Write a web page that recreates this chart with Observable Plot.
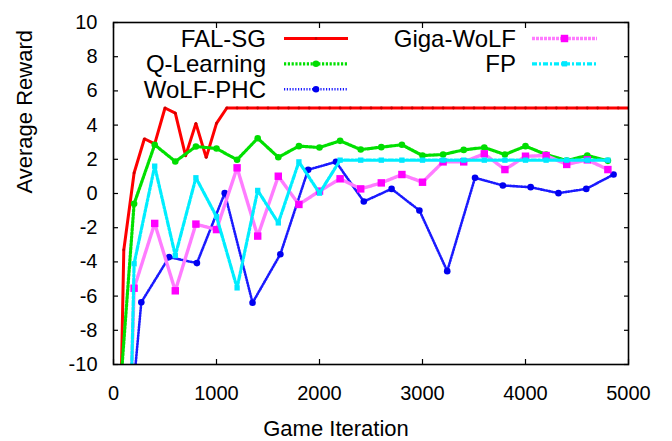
<!DOCTYPE html>
<html><head><meta charset="utf-8">
<script src="https://cdn.jsdelivr.net/npm/d3@7"></script>
<script src="https://cdn.jsdelivr.net/npm/@observablehq/plot@0.6"></script>
<style>
html,body{margin:0;padding:0;background:#fff;}
#wrap{position:relative;width:672px;height:441px;}
#wrap svg{display:block;}
#legend{position:absolute;left:0;top:0;pointer-events:none;}
</style></head><body><div id="wrap"></div>
<script>
// ---- data ----
const seriesNames = ["FAL-SG", "Q-Learning", "WoLF-PHC", "Giga-WoLF", "FP"];

const falIter = [0,100,200,300,400,500,600,700,800,900,1000,1100,1200,1300,1400,1500,1600,1700,1800,1900,2000,2100,2200,2300,2400,2500,2600,2700,2800,2900,3000,3100,3200,3300,3400,3500,3600,3700,3800,3900,4000,4100,4200,4300,4400,4500,4600,4700,4800,4900,5000];
const falVal = [-34,-3.3,1.2,3.2,2.9,5.0,4.7,2.2,4.1,2.1,4.1,5,5,5,5,5,5,5,5,5,5,5,5,5,5,5,5,5,5,5,5,5,5,5,5,5,5,5,5,5,5,5,5,5,5,5,5,5,5,5,5];

const qIter = [0,200,400,600,800,1000,1200,1400,1600,1800,2000,2200,2400,2600,2800,3000,3200,3400,3600,3800,4000,4200,4400,4600,4800];
const qVal = [-16.8,-0.6,2.85,1.87,2.75,2.63,1.97,3.23,2.12,2.77,2.69,3.08,2.57,2.71,2.85,2.22,2.28,2.55,2.69,2.28,2.77,2.28,1.93,2.22,1.91];

const wolfIter = [0,270,540,810,1080,1350,1620,1890,2160,2430,2700,2970,3240,3510,3780,4050,4320,4590,4855];
const wolfVal = [-24,-6.36,-3.72,-4.07,0.02,-6.39,-3.55,1.39,1.85,-0.47,0.27,-0.99,-4.54,0.92,0.47,0.37,0.02,0.27,1.11];

const gigaIter = [0,200,400,600,800,1000,1200,1400,1600,1800,2000,2200,2400,2600,2800,3000,3200,3400,3600,3800,4000,4200,4400,4600,4800];
const gigaVal = [-46,-5.54,-1.75,-5.69,-1.79,-2.11,1.5,-2.49,1.01,-0.64,0.14,0.86,0.27,0.62,1.11,0.66,1.85,1.85,2.32,1.4,2.18,2.22,1.7,1.97,1.4];

const fpIter = [0,200,400,600,800,1000,1200,1400,1600,1800,2000,2200,2400,2600,2800,3000,3200,3400,3600,3800,4000,4200,4400,4600,4800];
const fpVal = [-58,-4.11,1.6,-3.63,0.92,-1.35,-5.52,0.18,-1.72,1.85,0.02,1.95,1.95,1.95,1.95,1.95,1.95,1.95,1.95,1.95,1.95,1.95,1.95,1.95,1.95];

const xTicks = [0,1000,2000,3000,4000,5000];
const yTicks = [-10,-8,-6,-4,-2,0,2,4,6,8,10];
const xLabel = "Game Iteration";
const yLabel = "Average Reward";

// ---- styles ----
const styles = [
  {line:{stroke:"#ff0000", strokeWidth:3}, dot:{fill:"#cc0000", r:1.4, symbol:"circle"}},
  {line:{stroke:"#00e000", strokeWidth:3.2, strokeDasharray:"2.2,1.6"}, dot:{fill:"#00dd00", r:3.3, symbol:"circle"}},
  {line:{stroke:"#1a1aff", strokeWidth:2.6, strokeDasharray:"1.2,1.6"}, dot:{fill:"#0000f0", r:3.3, symbol:"circle"}},
  {line:{stroke:"#ff7cff", strokeWidth:3.4, strokeDasharray:"3,1"}, dot:{fill:"#ff00ff", r:4.2, symbol:"square"}},
  {line:{stroke:"#00eeff", strokeWidth:3.2, strokeDasharray:"5,2,2,2"}, dot:{fill:"#00e8ff", r:3.0, symbol:"square"}}
];
const iters = [falIter, qIter, wolfIter, gigaIter, fpIter];
const vals = [falVal, qVal, wolfVal, gigaVal, fpVal];

const marks = [];
seriesNames.forEach((name, i) => {
  const data = iters[i].map((x, j) => ({x, y: vals[i][j], name}));
  marks.push(Plot.line(data, {x:"x", y:"y", clip:true, strokeLinejoin:"miter", ...styles[i].line}));
  marks.push(Plot.dot(data, {x:"x", y:"y", clip:true, stroke:"none", ...styles[i].dot}));
});

const fmt = d => String(d);
const blank = () => "";
marks.push(
  Plot.axisX({ticks:xTicks, anchor:"bottom", tickSize:-5, tickFormat:blank, label:null, strokeWidth:1.2}),
  Plot.axisX({ticks:xTicks, anchor:"top", tickSize:-5, tickFormat:blank, label:null, strokeWidth:1.2}),
  Plot.axisX({ticks:xTicks, anchor:"bottom", tickSize:0, tickPadding:21, tickFormat:fmt, label:null, fontSize:20}),
  Plot.axisY({ticks:yTicks, anchor:"left", tickSize:-5, tickFormat:blank, label:null, strokeWidth:1.2}),
  Plot.axisY({ticks:yTicks, anchor:"right", tickSize:-5, tickFormat:blank, label:null, strokeWidth:1.2}),
  Plot.axisY({ticks:yTicks, anchor:"left", tickSize:0, tickPadding:16, tickFormat:fmt, label:null, fontSize:20}),
  Plot.frame({stroke:"#000", strokeWidth:1.6}),
  Plot.text([xLabel], {frameAnchor:"bottom", lineAnchor:"middle", dy:64, dx:-35, fontSize:22}),
  Plot.text([yLabel], {frameAnchor:"left", lineAnchor:"middle", rotate:-90, dx:-89, fontSize:22})
);

const chart = Plot.plot({
  width:672, height:441,
  marginLeft:113, marginRight:44, marginTop:22, marginBottom:77,
  x:{domain:[0,5000], axis:null},
  y:{domain:[-10,10], axis:null},
  style:{fontFamily:"'Liberation Sans', Arial, sans-serif", fontSize:"20px", background:"#fff", color:"#000"},
  marks
});
const wrap = document.getElementById("wrap");
wrap.appendChild(chart);

// ---- legend overlay (inside plot area, gnuplot style) ----
const legendLayout = [
  {col:0,row:0},{col:0,row:1},{col:0,row:2},{col:1,row:0},{col:1,row:1}
];
const colText = [266, 516];
const colLine = [[284,348],[532,597]];
const rowY = [38.5, 63.8, 89.2];
const svg = d3.select(wrap).append("svg").attr("id","legend").attr("width",672).attr("height",441)
  .style("font-family","'Liberation Sans', Arial, sans-serif");
seriesNames.forEach((name, i) => {
  const {col,row} = legendLayout[i];
  const y = rowY[row];
  svg.append("text").attr("x",colText[col]).attr("y",y).attr("dy","0.35em")
    .attr("text-anchor","end").attr("font-size",24).text(name);
  const s = styles[i];
  svg.append("line").attr("x1",colLine[col][0]).attr("x2",colLine[col][1]).attr("y1",y).attr("y2",y)
    .attr("stroke",s.line.stroke).attr("stroke-width",s.line.strokeWidth)
    .attr("stroke-dasharray",s.line.strokeDasharray || null);
  const cx = (colLine[col][0]+colLine[col][1])/2;
  const sym = s.dot.symbol === "square" ? d3.symbolSquare : d3.symbolCircle;
  svg.append("path").attr("transform",`translate(${cx},${y})`)
    .attr("d", d3.symbol(sym, Math.PI*s.dot.r*s.dot.r)()).attr("fill", s.dot.fill);
});
</script></body></html>
